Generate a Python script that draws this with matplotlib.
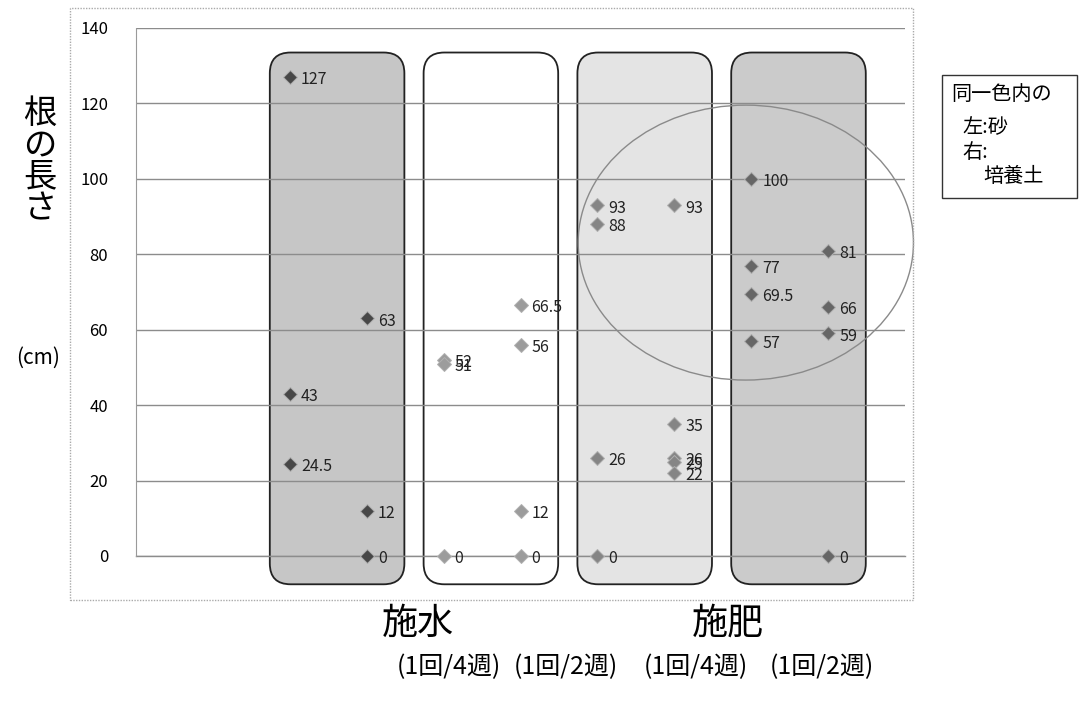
import numpy as np
import matplotlib
matplotlib.use("Agg")
import matplotlib.pyplot as plt
from matplotlib.patches import FancyBboxPatch, Ellipse, Rectangle

plt.rcParams["font.family"] = ["Noto Sans CJK JP", "DejaVu Sans"]

# data: root length (cm) per column (left: sand, right: soil in each group)
col_pos = [1, 2, 3, 4, 5, 6, 7, 8]
col_vals = [
    [127, 43, 24.5],
    [63, 12, 0],
    [52, 51, 0],
    [66.5, 56, 12, 0],
    [93, 88, 26, 0],
    [93, 35, 26, 25, 22],
    [100, 77, 69.5, 57],
    [81, 66, 59, 0],
]
col_colors = ["#474747", "#474747", "#9c9c9c", "#9c9c9c",
              "#858585", "#858585", "#666666", "#666666"]
groups = [(1, 2), (3, 4), (5, 6), (7, 8)]
group_fill = ["#c6c6c6", "#ffffff", "#e4e4e4", "#cbcbcb"]
y_ticks = [0, 20, 40, 60, 80, 100, 120, 140]

fig = plt.figure(figsize=(10.79, 7.05), dpi=100)
ax = fig.add_axes([136 / 1079, 1 - 556 / 705, (905 - 136) / 1079, 528 / 705])
ax.set_xlim(-1, 9)
ax.set_ylim(0, 140)
ax.set_yticks(y_ticks)
ax.set_xticks([])
ax.tick_params(axis="y", length=0, pad=20, labelsize=12)
ax.grid(axis="y", color="#8c8c8c", lw=1.0)
ax.axhline(0, color="#8c8c8c", lw=1.0, zorder=1.5, clip_on=False)
ax.set_axisbelow("line")
for s in ["right", "bottom", "top"]:
    ax.spines[s].set_visible(False)
ax.spines["left"].set_color("#9a9a9a")
ax.spines["left"].set_linestyle((0, (1, 1)))

# rounded group boxes
aspect = (528 / 140) ** -1 * (769 / 10)
for (a, b), fc in zip(groups, group_fill):
    x0, x1 = a - 0.26, b + 0.49
    y0, y1 = -7.5, 133.5
    box = FancyBboxPatch((x0, y0), x1 - x0, y1 - y0,
                         boxstyle="round,pad=0,rounding_size=0.27",
                         mutation_aspect=aspect, fc=fc, ec="#222222",
                         lw=1.3, zorder=0.3, clip_on=False)
    ax.add_patch(box)

# points and labels
for x, vals, c in zip(col_pos, col_vals, col_colors):
    ax.plot([x] * len(vals), vals, ls="none", marker="D", ms=7.5,
            mfc=c, mec="#b0b0b0", mew=0.7, zorder=3, clip_on=False)
    for v in vals:
        ax.annotate(f"{v:g}", (x, v), xytext=(8, -2), textcoords="offset points",
                    ha="left", va="center", fontsize=11.5, color="#222222", zorder=4)

# ellipse highlight
ax.add_patch(Ellipse((6.93, 83.1), 4.36, 72.9, fill=False, ec="#8a8a8a",
                     lw=1.0, zorder=2.5, clip_on=False))

# outer chart border
fig.patches.append(Rectangle((70 / 1079, 1 - 600 / 705), 843 / 1079, 592 / 705,
                             transform=fig.transFigure, fill=False,
                             ec="#aaaaaa", lw=1.0, ls=(0, (1, 1))))

# y labels
for i, ch in enumerate("根の長さ"):
    fig.text(40 / 1079, 1 - (113 + i * 32) / 705, ch, fontsize=24,
             ha="center", va="center")
fig.text(38 / 1079, 1 - 358 / 705, "(cm)", fontsize=15, ha="center", va="center")

# x group labels
fig.text(418 / 1079, 1 - 624 / 705, "施水", fontsize=26, ha="center", va="center")
fig.text(728 / 1079, 1 - 624 / 705, "施肥", fontsize=26, ha="center", va="center")
for xp, s in zip([449, 566, 696, 822], ["(1回/4週)", "(1回/2週)", "(1回/4週)", "(1回/2週)"]):
    fig.text(xp / 1079, 1 - 667 / 705, s, fontsize=18, ha="center", va="center")

# legend note box
fig.patches.append(Rectangle((942 / 1079, 1 - 198 / 705), 135 / 1079, 123 / 705,
                             transform=fig.transFigure, fill=False,
                             ec="#333333", lw=1.0))
fig.text(951 / 1079, 1 - 95 / 705, "同一色内の", fontsize=14.5, va="center")
fig.text(962 / 1079, 1 - 128 / 705, "左:砂", fontsize=14.5, va="center")
fig.text(962 / 1079, 1 - 152 / 705, "右:", fontsize=14.5, va="center")
fig.text(983 / 1079, 1 - 177 / 705, "培養土", fontsize=14.5, va="center")

fig.savefig("out.png", dpi=100)
